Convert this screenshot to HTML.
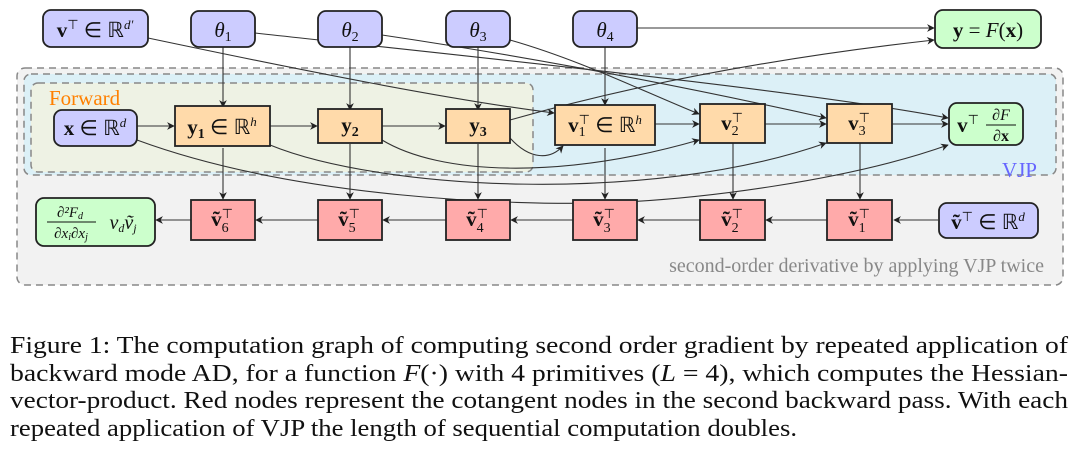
<!DOCTYPE html>
<html><head><meta charset="utf-8"><style>
body{margin:0;background:#fff;width:1080px;height:459px;overflow:hidden}
svg{display:block}
text{font-family:"Liberation Serif",serif}
.b{font-weight:bold}
</style></head><body>
<svg width="1080" height="459" viewBox="0 0 1080 459">
<defs><marker id="a" viewBox="0 0 10 10" refX="9" refY="5" markerWidth="7" markerHeight="7" orient="auto"><path d="M0,0 L10,5 L0,10 L3,5z" fill="#222"/></marker></defs>
<rect x="17" y="68" width="1046" height="217" rx="8" fill="#f2f2f2" stroke="#888" stroke-width="1.5" stroke-dasharray="7,5"/>
<rect x="24" y="74" width="1032" height="101" rx="7" fill="#dcf0f7" stroke="#888" stroke-width="1.5" stroke-dasharray="7,5"/>
<rect x="31" y="83" width="502" height="89" rx="7" fill="#eef2e4" stroke="#888" stroke-width="1.5" stroke-dasharray="7,5"/>
<text x="49" y="105" font-size="21" fill="#ff8000">Forward</text>
<text x="1037" y="177" font-size="21" fill="#6666ff" text-anchor="end">VJP</text>
<text x="1044" y="272" font-size="20" fill="#888" text-anchor="end">second-order derivative by applying VJP twice</text>
<g fill="none" stroke="#333" stroke-width="1.1" marker-end="url(#a)">
<line x1="223" y1="47" x2="223" y2="107"/>
<line x1="350" y1="47" x2="350" y2="110"/>
<line x1="478" y1="47" x2="478" y2="110"/>
<line x1="605" y1="47" x2="605" y2="105"/>
<line x1="637" y1="28" x2="934" y2="28"/>
<line x1="137" y1="126" x2="174" y2="126"/>
<line x1="270" y1="126" x2="317" y2="126"/>
<line x1="382" y1="126" x2="445" y2="126"/>
<line x1="655" y1="124" x2="699" y2="124"/>
<line x1="765" y1="124" x2="826" y2="124"/>
<line x1="892" y1="124" x2="948" y2="124"/>
<line x1="223" y1="148" x2="223" y2="199"/>
<line x1="350" y1="144" x2="350" y2="199"/>
<line x1="478" y1="144" x2="478" y2="199"/>
<line x1="605" y1="148" x2="605" y2="199"/>
<line x1="733" y1="143" x2="733" y2="199"/>
<line x1="860" y1="143" x2="860" y2="199"/>
<line x1="938" y1="220" x2="894" y2="220"/>
<line x1="827" y1="220" x2="766" y2="220"/>
<line x1="700" y1="220" x2="638" y2="220"/>
<line x1="573" y1="220" x2="511" y2="220"/>
<line x1="446" y1="220" x2="383" y2="220"/>
<line x1="318" y1="220" x2="256" y2="220"/>
<line x1="191" y1="220" x2="156" y2="220"/>
<path d="M148,38 C300,70 450,100 554,113"/>
<path d="M255,33 C500,60 800,90 948,118"/>
<path d="M382,35 C550,60 700,90 826,118"/>
<path d="M510,40 C580,60 640,90 699,114"/>
<path d="M510,120 C650,80 800,55 934,40"/>
<path d="M510,138 C530,160 550,160 563,146"/>
<path d="M382,140 C440,175 560,180 699,140"/>
<path d="M270,145 C380,190 650,205 826,143"/>
<path d="M137,140 C300,200 520,205 600,203 C700,200 850,180 948,145"/>
</g>
<g stroke="#222" stroke-width="1.8">
<rect x="43" y="10" width="105" height="37" rx="8" fill="#ccccff"/>
<rect x="191" y="11" width="64" height="36" rx="8" fill="#ccccff"/>
<rect x="318" y="11" width="64" height="36" rx="8" fill="#ccccff"/>
<rect x="446" y="11" width="64" height="36" rx="8" fill="#ccccff"/>
<rect x="573" y="11" width="64" height="36" rx="8" fill="#ccccff"/>
<rect x="935" y="10" width="106" height="38" rx="8" fill="#ccffcc"/>
<rect x="54" y="110" width="83" height="36" rx="8" fill="#ccccff"/>
<rect x="175" y="106" width="95" height="40" fill="#ffdaaa"/>
<rect x="318" y="109" width="64" height="34" fill="#ffdaaa"/>
<rect x="446" y="109" width="64" height="34" fill="#ffdaaa"/>
<rect x="555" y="105" width="100" height="40" fill="#ffdaaa"/>
<rect x="700" y="104" width="65" height="39" fill="#ffdaaa"/>
<rect x="827" y="104" width="65" height="39" fill="#ffdaaa"/>
<rect x="949" y="103" width="74" height="42" rx="8" fill="#ccffcc"/>
<rect x="36" y="198" width="119" height="48" rx="8" fill="#ccffcc"/>
<rect x="191" y="200" width="64" height="40" fill="#ffaaaa"/>
<rect x="318" y="200" width="64" height="40" fill="#ffaaaa"/>
<rect x="446" y="200" width="64" height="40" fill="#ffaaaa"/>
<rect x="573" y="200" width="64" height="40" fill="#ffaaaa"/>
<rect x="700" y="200" width="65" height="40" fill="#ffaaaa"/>
<rect x="827" y="200" width="65" height="40" fill="#ffaaaa"/>
<rect x="939" y="203" width="99" height="35" rx="8" fill="#ccccff"/>
</g>
<g font-size="21" fill="#111" text-anchor="middle">
<text x="95" y="37"><tspan class="b">v</tspan><tspan font-size="13" dy="-8">⊤</tspan><tspan dy="8"> ∈ ℝ</tspan><tspan font-size="13" dy="-8" font-style="italic">d′</tspan></text>
<text x="223" y="37" font-style="italic">θ<tspan font-size="14" font-style="normal" dy="4">1</tspan></text>
<text x="350" y="37" font-style="italic">θ<tspan font-size="14" font-style="normal" dy="4">2</tspan></text>
<text x="478" y="37" font-style="italic">θ<tspan font-size="14" font-style="normal" dy="4">3</tspan></text>
<text x="605" y="37" font-style="italic">θ<tspan font-size="14" font-style="normal" dy="4">4</tspan></text>
<text x="988" y="37"><tspan class="b">y</tspan> = <tspan font-style="italic">F</tspan>(<tspan class="b">x</tspan>)</text>
<text x="95" y="135"><tspan class="b">x</tspan> ∈ ℝ<tspan font-size="13" dy="-8" font-style="italic">d</tspan></text>
<text x="222" y="134"><tspan class="b">y</tspan><tspan class="b" font-size="14" dy="4">1</tspan><tspan dy="-4"> ∈ ℝ</tspan><tspan font-size="13" dy="-8" font-style="italic">h</tspan></text>
<text x="350" y="132" class="b">y<tspan font-size="14" dy="4">2</tspan></text>
<text x="478" y="132" class="b">y<tspan font-size="14" dy="4">3</tspan></text>
<text x="605" y="132"><tspan class="b">v</tspan><tspan font-size="14" dy="4">1</tspan><tspan font-size="13" dy="-12" dx="-7">⊤</tspan><tspan dy="8"> ∈ ℝ</tspan><tspan font-size="13" dy="-8" font-style="italic">h</tspan></text>
<text x="732" y="130"><tspan class="b">v</tspan><tspan font-size="14" dy="5">2</tspan><tspan font-size="13" dy="-13" dx="-7">⊤</tspan></text>
<text x="859" y="130"><tspan class="b">v</tspan><tspan font-size="14" dy="5">3</tspan><tspan font-size="13" dy="-13" dx="-7">⊤</tspan></text>
<text x="968" y="132"><tspan class="b">v</tspan><tspan font-size="13" dy="-8">⊤</tspan></text>
<text x="1001" y="120" font-size="16" font-style="italic">∂F</text>
<line x1="986" y1="125" x2="1016" y2="125" stroke="#111"/>
<text x="1001" y="141" font-size="16">∂<tspan class="b">x</tspan></text>
<text x="70" y="217" font-size="15" font-style="italic">∂²F<tspan font-size="10" dy="2">d</tspan></text>
<line x1="47" y1="222" x2="96" y2="222" stroke="#111"/>
<text x="71" y="238" font-size="15" font-style="italic">∂x<tspan font-size="10" dy="2">i</tspan><tspan dy="-2">∂x</tspan><tspan font-size="10" dy="2">j</tspan></text>
<text x="123" y="229" font-size="20" font-style="italic">v<tspan font-size="12" dy="3">d</tspan><tspan dy="-3">ṽ</tspan><tspan font-size="12" dy="3">j</tspan></text>
<text x="222" y="226"><tspan class="b">ṽ</tspan><tspan font-size="14" dy="6">6</tspan><tspan font-size="13" dy="-14" dx="-7">⊤</tspan></text>
<text x="349" y="226"><tspan class="b">ṽ</tspan><tspan font-size="14" dy="6">5</tspan><tspan font-size="13" dy="-14" dx="-7">⊤</tspan></text>
<text x="477" y="226"><tspan class="b">ṽ</tspan><tspan font-size="14" dy="6">4</tspan><tspan font-size="13" dy="-14" dx="-7">⊤</tspan></text>
<text x="604" y="226"><tspan class="b">ṽ</tspan><tspan font-size="14" dy="6">3</tspan><tspan font-size="13" dy="-14" dx="-7">⊤</tspan></text>
<text x="732" y="226"><tspan class="b">ṽ</tspan><tspan font-size="14" dy="6">2</tspan><tspan font-size="13" dy="-14" dx="-7">⊤</tspan></text>
<text x="859" y="226"><tspan class="b">ṽ</tspan><tspan font-size="14" dy="6">1</tspan><tspan font-size="13" dy="-14" dx="-7">⊤</tspan></text>
<text x="988" y="229"><tspan class="b">ṽ</tspan><tspan font-size="13" dy="-8">⊤</tspan><tspan dy="8"> ∈ ℝ</tspan><tspan font-size="13" dy="-8" font-style="italic">d</tspan></text>
</g>
<g font-size="24" fill="#111">
<text x="10" y="353" textLength="1058" lengthAdjust="spacingAndGlyphs">Figure 1: The computation graph of computing second order gradient by repeated application of</text>
<text x="10" y="381" textLength="1058" lengthAdjust="spacingAndGlyphs">backward mode AD, for a function <tspan font-style="italic">F</tspan>(·) with 4 primitives (<tspan font-style="italic">L</tspan> = 4), which computes the Hessian-</text>
<text x="10" y="408" textLength="1058" lengthAdjust="spacingAndGlyphs">vector-product. Red nodes represent the cotangent nodes in the second backward pass. With each</text>
<text x="10" y="436" textLength="787" lengthAdjust="spacingAndGlyphs">repeated application of VJP the length of sequential computation doubles.</text>
</g>
</svg>
</body></html>
